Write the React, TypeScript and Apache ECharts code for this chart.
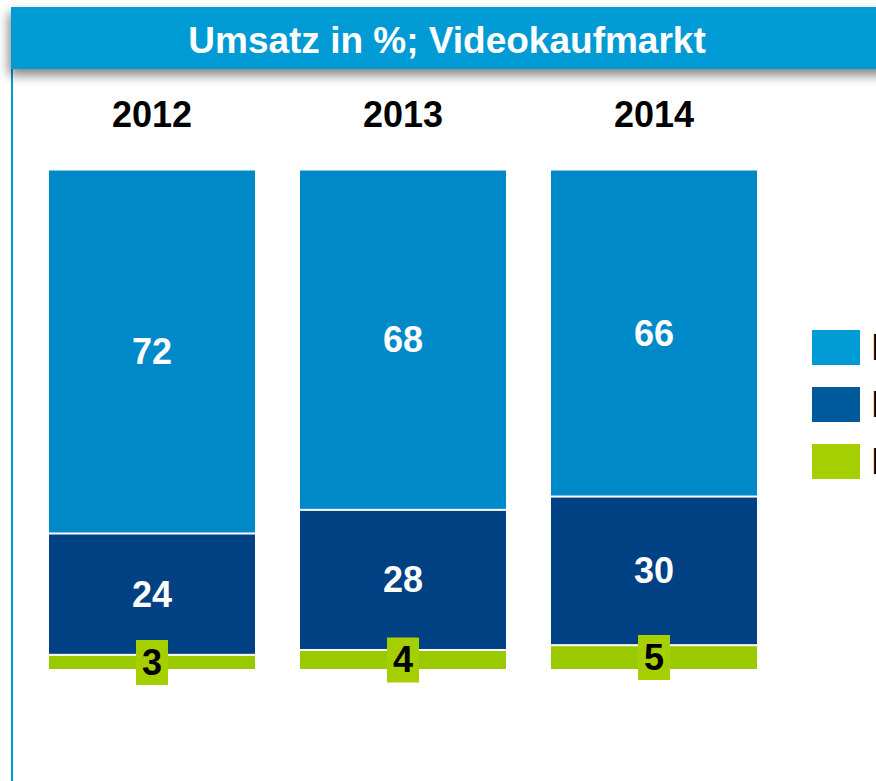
import React, { useEffect, useRef } from "react";
import * as echarts from "echarts";

const years = ["2012", "2013", "2014"];
const dvd = [72, 68, 66];
const bluray = [24, 28, 30];
const download = [3, 4, 5];
const seriesNames = ["DVD", "Blu-ray", "Download"];

export default function App() {
  const ref = useRef<HTMLDivElement>(null);
  useEffect(() => {
    if (!ref.current) return;
    const chart = echarts.init(ref.current, undefined, { renderer: "svg" });
    const totals = years.map((_, i) => dvd[i] + bluray[i] + download[i]);
    const norm = (arr: number[]) => arr.map((v, i) => (v / totals[i]) * 100);
    const font = "'Liberation Sans', Arial, sans-serif";
    const mk = (name: string, raw: number[], color: string, labelColor: string, green: boolean) => ({
      name,
      type: "bar",
      stack: "all",
      barWidth: 208,
      data: norm(raw),
      itemStyle: { color, borderColor: "#ffffff", borderWidth: 1 },
      label: {
        show: true,
        position: "inside",
        formatter: (p: any) => String(raw[p.dataIndex]),
        color: labelColor,
        fontFamily: font,
        fontWeight: "bold",
        fontSize: 36,
        ...(green ? { backgroundColor: "#A5CF00", padding: [5, 6, 4, 6] } : {}),
      },
    });
    chart.setOption({
      animation: false,
      backgroundColor: "#ffffff",
      grid: { left: 26.5, right: 96.5, top: 169.5, bottom: 111 },
      xAxis: {
        type: "category",
        data: years,
        position: "top",
        axisLine: { show: false },
        axisTick: { show: false },
        axisLabel: { margin: 37, fontSize: 36, fontWeight: "bold", color: "#000", fontFamily: font },
      },
      yAxis: { type: "value", min: 0, max: 100, show: false },
      legend: {
        orient: "vertical",
        left: 810,
        top: 328,
        padding: 0,
        itemWidth: 50,
        itemHeight: 37,
        itemGap: 18,
        icon: "rect",
        textStyle: { fontSize: 36, color: "#000", fontFamily: font, padding: [0, 0, 0, 5] },
        data: [
          { name: seriesNames[0], itemStyle: { color: "#009BD4" } },
          { name: seriesNames[1], itemStyle: { color: "#00599A" } },
          { name: seriesNames[2], itemStyle: { color: "#A5CF00" } },
        ],
      },
      graphic: [
        {
          type: "rect",
          shape: { x: 11, y: 60, width: 2, height: 730 },
          style: { fill: "#009BD4" },
          z: 1,
        },
        {
          type: "rect",
          shape: { x: 11, y: 7, width: 880, height: 62 },
          style: {
            fill: "#009BD4",
            shadowBlur: 12,
            shadowOffsetY: 6,
            shadowOffsetX: -2,
            shadowColor: "rgba(0,0,0,0.5)",
          },
          z: 10,
        },
        {
          type: "text",
          x: 447,
          y: 40,
          style: {
            text: "Umsatz in %; Videokaufmarkt",
            fill: "#ffffff",
            font: `bold 37px ${font}`,
            align: "center",
            verticalAlign: "middle",
          },
          z: 11,
        },
      ],
      series: [
        mk(seriesNames[2], download, "#9AC900", "#000000", true),
        mk(seriesNames[1], bluray, "#004183", "#ffffff", false),
        mk(seriesNames[0], dvd, "#0089C9", "#ffffff", false),
      ],
    });
    return () => chart.dispose();
  }, []);
  return (
    <div
      ref={ref}
      style={{ position: "fixed", left: 0, top: 0, width: 876, height: 781 }}
    />
  );
}
